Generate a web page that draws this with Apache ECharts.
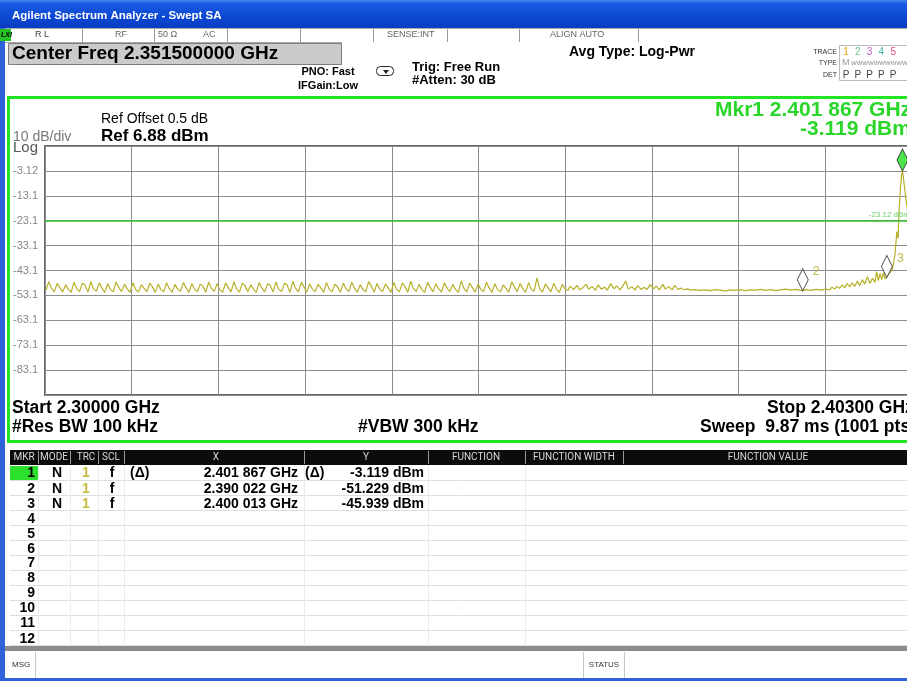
<!DOCTYPE html>
<html><head><meta charset="utf-8">
<script src="https://cdn.jsdelivr.net/npm/echarts@6/dist/echarts.min.js"></script>
<style>html,body{margin:0;padding:0;background:#fff;overflow:hidden;width:907px;height:681px}#c{width:915px;height:681px}</style>
</head><body><div id="c"></div>
<script>
// ---- data ----
const spanMHz = 103;            // 2.30000 GHz .. 2.40300 GHz
const refLevel = 6.88;          // dBm, top of graticule
const yTickLabels = ['-3.12','-13.1','-23.1','-33.1','-43.1','-53.1','-63.1','-73.1','-83.1'];
const displayLine = -23.12;     // dBm
const markerNames = ['1','2','3'];
const markerOffsetMHz = [101.867, 90.022, 100.013];
const markerDbm = [-3.119, -51.229, -45.939];
// trace: [offset from 2.300 GHz in MHz, level dBm]
const trace = [
[0.1,-51.2],[0.45,-47.6],[0.75,-50.2],[1.1,-51.7],[1.45,-48.3],[1.75,-49.9],[2.1,-51.8],[2.45,-48.9],[2.75,-50.6],
[3.1,-51.9],[3.45,-47.8],[3.75,-50.3],[4.1,-51.6],[4.45,-48.2],[4.75,-48.9],[5.1,-51.8],[5.45,-47.6],[5.75,-50.5],
[6.1,-51.5],[6.45,-48.0],[6.75,-50.1],[7.1,-51.9],[7.45,-48.4],[7.75,-50.7],[8.1,-51.7],[8.45,-47.7],[8.75,-49.8],
[9.1,-51.6],[9.45,-48.6],[9.75,-50.4],[10.1,-51.9],[10.45,-48.1],[10.75,-50.6],[11.1,-51.8],[11.45,-48.8],[11.75,-50.2],
[12.1,-51.6],[12.45,-48.2],[12.75,-49.6],[13.1,-51.9],[13.45,-48.5],[13.75,-50.7],[14.1,-51.7],[14.45,-48.0],[14.75,-50.3],
[15.1,-51.8],[15.45,-48.7],[15.75,-50.5],[16.1,-51.6],[16.45,-47.9],[16.75,-50.0],[17.1,-51.9],[17.45,-48.3],[17.75,-50.6],
[18.1,-51.7],[18.45,-48.6],[18.75,-49.4],[19.1,-51.8],[19.45,-47.8],[19.75,-50.2],[20.1,-51.5],[20.45,-48.4],[20.75,-50.7],
[21.1,-51.9],[21.45,-48.1],[21.75,-49.9],[22.1,-51.7],[22.45,-47.6],[22.75,-50.4],[23.1,-51.8],[23.45,-48.2],[23.75,-49.2],
[24.1,-51.6],[24.45,-48.9],[24.75,-50.5],[25.1,-51.9],[25.45,-47.9],[25.75,-50.1],[26.1,-51.7],[26.45,-48.5],[26.75,-49.0],
[27.1,-51.8],[27.45,-47.7],[27.75,-50.6],[28.1,-51.6],[28.45,-48.3],[28.75,-48.8],[29.1,-51.9],[29.45,-47.5],[29.75,-50.2],
[30.1,-51.7],[30.45,-47.9],[30.75,-49.6],[31.1,-51.8],[31.45,-48.4],[31.75,-50.5],[32.1,-51.6],[32.45,-48.7],[32.75,-50.0],
[33.1,-51.9],[33.45,-48.0],[33.75,-50.6],[34.1,-51.7],[34.45,-48.6],[34.75,-49.7],[35.1,-51.8],[35.45,-48.2],[35.75,-50.4],
[36.1,-51.6],[36.45,-47.8],[36.75,-50.1],[37.1,-51.9],[37.45,-48.8],[37.75,-50.7],[38.1,-51.7],[38.45,-47.6],[38.75,-49.3],
[39.1,-51.8],[39.45,-48.3],[39.75,-50.5],[40.1,-51.6],[40.45,-48.5],[40.75,-50.0],[41.1,-51.9],[41.45,-47.9],[41.75,-50.6],
[42.1,-51.7],[42.45,-48.1],[42.75,-49.5],[43.1,-51.8],[43.45,-47.4],[43.75,-50.3],[44.1,-51.6],[44.45,-48.6],[44.75,-50.7],
[45.1,-51.9],[45.45,-47.9],[45.75,-49.8],[46.1,-51.7],[46.45,-48.4],[46.75,-50.4],[47.1,-51.8],[47.45,-48.0],[47.75,-50.1],
[48.1,-51.6],[48.45,-48.7],[48.75,-50.6],[49.1,-51.9],[49.45,-47.3],[49.75,-50.2],[50.1,-51.7],[50.45,-48.2],[50.75,-49.9],
[51.1,-51.8],[51.45,-48.6],[51.75,-50.5],[52.1,-51.6],[52.45,-47.8],[52.75,-50.0],[53.1,-51.9],[53.45,-48.4],[53.75,-50.7],
[54.1,-51.7],[54.45,-48.9],[54.75,-50.2],[55.1,-51.8],[55.45,-47.7],[55.75,-49.6],[56.1,-51.6],[56.45,-48.3],[56.75,-50.4],
[57.1,-51.9],[57.45,-48.0],[57.75,-50.6],[58.1,-51.5],[58.45,-46.1],[58.75,-50.3],[59.1,-51.8],[59.45,-48.5],[59.75,-50.0],
[60.1,-51.7],[60.45,-48.2],[60.75,-50.6],[61.1,-51.9],[61.45,-48.7],[61.75,-50.3],
[62.1,-51.2],[62.4,-49.4],[62.8,-50.8],[63.2,-49.1],[63.5,-50.9],[63.9,-50.0],[64.3,-48.6],[64.6,-50.7],[65.0,-49.5],
[65.4,-51.1],[65.7,-48.9],[66.1,-50.6],[66.5,-49.8],[66.8,-51.0],[67.2,-48.4],[67.6,-50.5],[67.9,-49.3],[68.3,-50.9],
[68.7,-49.0],[69.0,-47.4],[69.3,-50.6],[69.7,-49.6],[70.1,-51.0],[70.4,-49.2],[70.8,-50.7],[71.2,-49.9],[71.5,-50.8],
[71.9,-48.8],[72.3,-50.5],[72.6,-49.4],[73.0,-50.9],[73.4,-48.7],[73.7,-50.6],[74.1,-49.6],[74.5,-50.9],[74.8,-49.1],
[75.2,-50.7],[75.6,-50.2],[75.9,-50.9],[76.3,-50.5],[76.7,-51.0],
[77.2,-50.8],[77.8,-51.1],[78.4,-50.9],[79.0,-51.2],[79.6,-50.8],[80.2,-51.0],[80.8,-51.3],[81.4,-50.9],[82.0,-51.1],
[82.6,-50.8],[83.2,-51.2],[83.8,-50.9],[84.4,-51.0],[85.0,-50.7],[85.6,-51.1],[86.2,-50.8],[86.8,-51.2],[87.4,-50.9],
[88.0,-50.6],[88.6,-51.0],[89.2,-50.7],[89.6,-51.0],[90.022,-51.229],[90.4,-50.8],[91.0,-51.1],[91.6,-50.7],[92.2,-51.0],
[92.8,-50.6],
[93.2,-50.9],[93.5,-49.8],[93.8,-50.6],[94.1,-49.5],[94.4,-50.3],[94.7,-48.9],[95.0,-50.1],[95.3,-48.4],[95.6,-49.7],
[95.9,-48.1],[96.2,-49.5],[96.5,-47.4],[96.8,-49.2],[97.1,-46.8],[97.4,-48.6],[97.7,-45.6],[98.0,-48.3],[98.3,-46.2],
[98.6,-47.9],[98.8,-43.6],[99.0,-47.2],[99.2,-44.3],[99.4,-46.8],[99.6,-44.0],[99.8,-46.5],[100.013,-45.939],
[100.2,-44.6],[100.4,-45.3],[100.6,-43.2],[100.8,-40.5],[101.0,-36.0],[101.2,-27.5],[101.35,-30.2],[101.45,-20.0],
[101.6,-11.5],[101.75,-5.2],[101.867,-3.119],[102.0,-6.5],[102.2,-12.4],[102.45,-18.6],[102.7,-24.0],[103.0,-29.0]
];

// ---- drawing ----
const F = '"Liberation Sans", Arial, sans-serif';
function T(x, y, s, size, o) {
  o = o || {};
  const al = o.align || 'left';
  return {type:'text', x:x, y:y, z:o.z || 20, silent:true,
    style:{text:s, font:(o.weight || 'normal') + ' ' + size + 'px ' + (o.family || F),
      fill:o.color || '#000', align:al, textAlign:al, verticalAlign:'middle', textVerticalAlign:'middle'}};
}
function R(x, y, w, h, fill, stroke, lw, z) {
  return {type:'rect', z:z || 5, silent:true, shape:{x:x, y:y, width:w, height:h},
    style:{fill:fill, stroke:stroke || null, lineWidth:lw || 0}};
}
function L(x1, y1, x2, y2, c, w, z) {
  return {type:'line', z:z || 6, silent:true, shape:{x1:x1, y1:y1, x2:x2, y2:y2}, style:{stroke:c, lineWidth:w || 1}};
}

const W = 915;
const g = [];
// title bar
g.push({type:'rect', z:5, silent:true, shape:{x:0, y:0, width:W, height:28},
  style:{fill:new echarts.graphic.LinearGradient(0,0,0,1,[
    {offset:0, color:'#4a86ee'},{offset:0.12, color:'#1a5ae0'},{offset:0.6, color:'#0c48d4'},{offset:1, color:'#0a3cbf'}])}});
g.push(T(12, 16, 'Agilent Spectrum Analyzer - Swept SA', 11.5, {weight:'bold', color:'#fff'}));
// left & bottom window frame
g.push(R(0, 28, 5, 653, '#2f62d8'));
g.push(R(0, 678, W, 3, '#2f62d8'));
// status row
g.push(L(5, 28.5, W, 28.5, '#aaa'));
g.push(L(5, 42.5, 342, 42.5, '#aaa'));
g.push(R(0, 29, 11, 12, '#22c322', null, 0, 7));
g.push(T(1, 35, 'LXI', 7, {weight:'bold italic', color:'#000'}));
[82, 154, 227, 300, 373, 447, 519, 638].forEach(function (x) { g.push(L(x + 0.5, 29, x + 0.5, 42, '#999')); });
g.push(T(35, 35, 'R L', 9, {color:'#444'}));
g.push(T(115, 35, 'RF', 9, {color:'#666'}));
g.push(T(158, 35, '50 \u03A9', 9, {color:'#666'}));
g.push(T(203, 35, 'AC', 9, {color:'#666'}));
g.push(T(387, 35, 'SENSE:INT', 9, {color:'#666'}));
g.push(T(550, 35, 'ALIGN AUTO', 9, {color:'#666'}));
// center freq box
g.push(R(8.5, 43.5, 333, 21, '#cbcbcb', '#7d7d7d', 1));
g.push(T(12, 54, 'Center Freq 2.351500000 GHz', 19, {weight:'bold'}));
g.push(T(328, 72, 'PNO: Fast', 11, {weight:'bold', align:'center'}));
g.push(T(328, 86, 'IFGain:Low', 11, {weight:'bold', align:'center'}));
g.push({type:'rect', z:7, silent:true, shape:{x:376.5, y:66.5, width:17, height:9, r:4}, style:{fill:'#fff', stroke:'#222', lineWidth:1}});
g.push({type:'polygon', z:8, silent:true, shape:{points:[[383,70],[389,70],[386,74]]}, style:{fill:'#222'}});
g.push(T(412, 67, 'Trig: Free Run', 13, {weight:'bold'}));
g.push(T(412, 80, '#Atten: 30 dB', 13, {weight:'bold'}));
g.push(T(569, 52, 'Avg Type: Log-Pwr', 14, {weight:'bold'}));
g.push(T(837, 52, 'TRACE', 7, {align:'right', color:'#333'}));
g.push(T(837, 63, 'TYPE', 7, {align:'right', color:'#333'}));
g.push(T(837, 75, 'DET', 7, {align:'right', color:'#333'}));
g.push(R(839.5, 45.5, 75, 35, '#fff', '#bbb', 1));
const trCols = ['#e8a400', '#6cc890', '#c060c0', '#40b8a8', '#e04c88'];
trCols.forEach(function (c, i) {
  g.push(T(846 + i * 11.8, 52, String(i + 1), 10, {align:'center', color:c}));
  g.push(T(846 + i * 11.8, 75, 'P', 10, {align:'center', color:'#444'}));
});
g.push(T(842, 63, 'M', 9, {color:'#999'}));
g.push(T(851, 63, 'WWWWWWWWWW', 6, {color:'#888'}));
// green graph frame
g.push(R(7, 96, W, 3, '#22e422', null, 0, 7));
g.push(R(7, 96, 3, 347, '#22e422', null, 0, 7));
g.push(R(7, 440, W, 3, '#22e422', null, 0, 7));
// graph annotations
g.push(T(101, 119, 'Ref Offset 0.5 dB', 14));
g.push(T(101, 136, 'Ref 6.88 dBm', 17, {weight:'bold'}));
g.push(T(13, 137, '10 dB/div', 14, {color:'#777'}));
g.push(T(13, 148, 'Log', 15, {color:'#555'}));
g.push(T(715, 110, 'Mkr1 2.401 867 GHz', 21, {weight:'bold', color:'#2bd62b'}));
g.push(T(800, 129, '-3.119 dBm', 21, {weight:'bold', color:'#2bd62b'}));
g.push(T(12, 408, 'Start 2.30000 GHz', 17.5, {weight:'bold'}));
g.push(T(12, 427, '#Res BW 100 kHz', 17.5, {weight:'bold'}));
g.push(T(358, 427, '#VBW 300 kHz', 17.5, {weight:'bold'}));
g.push(T(767, 408, 'Stop 2.40300 GHz', 17.5, {weight:'bold'}));
g.push(T(700, 427, 'Sweep  9.87 ms (1001 pts)', 17.5, {weight:'bold'}));
// marker table
g.push(R(10, 450, W, 15, '#0c0c0c'));
const colSep = [38, 70, 98, 124, 304, 428, 525, 623];
colSep.forEach(function (x) { g.push(L(x + 0.5, 451, x + 0.5, 464, '#9a9a9a', 1, 7)); });
[[24,'MKR'],[54,'MODE'],[86,'TRC'],[111,'SCL'],[216,'X'],[366,'Y'],[476,'FUNCTION'],[574,'FUNCTION WIDTH'],[768,'FUNCTION VALUE']].forEach(function (h) {
  g.push(T(h[0], 457.5, h[1], 10, {align:'center', color:'#d8d8d8', family:'Roboto, sans-serif'}));
});
for (let k = 1; k <= 12; k++) { g.push(L(10, 465.5 + k * 15, W, 465.5 + k * 15, '#dedede', 1, 4)); }
colSep.slice(0, 7).forEach(function (x) { g.push(L(x + 0.5, 466, x + 0.5, 646, '#ececec', 1, 4)); });
g.push(R(10, 466, 28, 14, '#2ee02e', null, 0, 6));
const rowY = [473, 489, 504, 519, 534, 549, 563, 578, 593, 608, 623, 639];
rowY.forEach(function (y, i) { g.push(T(35, y, String(i + 1), 14, {weight:'bold', align:'right'})); });
const tableRows = [
  ['N', '1', 'f', '(\u0394)', '2.401 867 GHz', '(\u0394)', '-3.119 dBm'],
  ['N', '1', 'f', '', '2.390 022 GHz', '', '-51.229 dBm'],
  ['N', '1', 'f', '', '2.400 013 GHz', '', '-45.939 dBm']
];
tableRows.forEach(function (r, i) {
  const y = rowY[i];
  g.push(T(57, y, r[0], 14, {weight:'bold', align:'center'}));
  g.push(T(86, y, r[1], 14, {weight:'bold', align:'center', color:'#c4bc3a'}));
  g.push(T(112, y, r[2], 14, {weight:'bold', align:'center'}));
  if (r[3]) g.push(T(130, y, r[3], 14, {weight:'bold'}));
  g.push(T(298, y, r[4], 14, {weight:'bold', align:'right'}));
  if (r[5]) g.push(T(305, y, r[5], 14, {weight:'bold'}));
  g.push(T(424, y, r[6], 14, {weight:'bold', align:'right'}));
});
g.push(R(5, 646, W, 5, '#8c8c8c'));
g.push(L(35.5, 652, 35.5, 678, '#c8c8c8'));
g.push(T(12, 665, 'MSG', 8, {color:'#333'}));
g.push(L(583.5, 652, 583.5, 678, '#c8c8c8'));
g.push(L(624.5, 652, 624.5, 678, '#c8c8c8'));
g.push(T(604, 665, 'STATUS', 8, {align:'center', color:'#333'}));

const chart = echarts.init(document.getElementById('c'));
chart.setOption({
  animation: false,
  backgroundColor: '#fff',
  grid: {left: 45, top: 146, right: 3, bottom: 286, show: true, borderColor: '#666', borderWidth: 2, backgroundColor: 'transparent'},
  xAxis: {type: 'value', min: 0, max: spanMHz, interval: spanMHz / 10,
    axisLine: {show: false}, axisTick: {show: false}, axisLabel: {show: false},
    splitLine: {show: true, lineStyle: {color: '#8c8c8c', width: 1}}},
  yAxis: {type: 'value', min: -100, max: 0, interval: 10,
    axisLine: {show: false}, axisTick: {show: false},
    axisLabel: {show: true, align: 'left', margin: 32, color: '#888', fontSize: 11, fontFamily: F,
      formatter: function (v) { const i = Math.round(-v / 10) - 1; return (i >= 0 && i < yTickLabels.length) ? yTickLabels[i] : ''; }},
    splitLine: {show: true, lineStyle: {color: '#8c8c8c', width: 1}}},
  graphic: {elements: g},
  series: [
    {type: 'line', data: trace.map(function (p) { return [p[0], p[1] - refLevel]; }),
      showSymbol: false, symbol: 'none', z: 3,
      lineStyle: {color: '#b6b028', width: 1.2},
      markLine: {silent: true, symbol: 'none', animation: false,
        data: [{yAxis: displayLine - refLevel}],
        lineStyle: {color: '#30c030', width: 1.5, type: 'solid'},
        label: {show: true, position: 'insideEndTop', formatter: displayLine.toFixed(2) + ' dBm', color: '#66cc66', fontSize: 8, distance: 2}}},
    {type: 'scatter', z: 5, clip: false,
      data: markerOffsetMHz.map(function (f, i) {
        return {value: [f, markerDbm[i] - refLevel], symbol: 'diamond', symbolSize: [11, 22], symbolOffset: [0, '-50%'],
          itemStyle: i === 0 ? {color: '#22dd22', borderColor: '#222', borderWidth: 1} : {color: '#fff', borderColor: '#222', borderWidth: 1},
          label: {show: i > 0, formatter: markerNames[i], position: 'right', offset: [-1, -8], color: '#b4ac24', fontSize: 13, fontFamily: F}};
      })}
  ]
});
</script>
</body></html>
